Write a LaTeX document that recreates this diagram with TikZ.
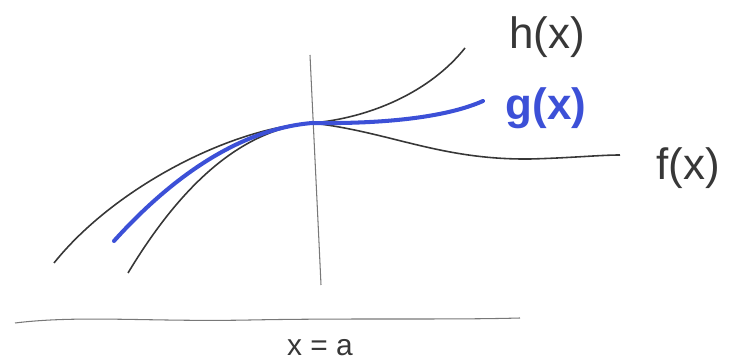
\documentclass[tikz,border=0pt]{standalone}
\usepackage{fontspec}
\setmainfont{Liberation Sans}
\usepackage{tikz}
\usetikzlibrary{positioning}
\definecolor{pen}{RGB}{55,55,55}
\definecolor{pencil}{RGB}{120,120,120}
\definecolor{marker}{RGB}{60,80,215}

\begin{document}
\begin{tikzpicture}[x=0.02cm,y=-0.02cm,
  crv/.style={pen,line width=0.9pt},
  gcrv/.style={marker,line width=2.3pt,line cap=round},
  aux/.style={pencil,line width=0.6pt},
  lbl/.style={font=\fontsize{25}{27}\selectfont,text=pen,inner sep=0pt}]
\useasboundingbox (0,0) rectangle (735,364);
\coordinate (p) at (312,123);
% vertical line and axis
\draw[aux] (310,55) .. controls (314,140) and (318,220) .. (321,285);
\draw[aux] (15,323) .. controls (80,315) and (150,322) .. (250,320) .. controls (350,318) and (450,320) .. (520,318);
% the three curves
\draw[crv] (54,263) .. controls (114,188) and (230,128) .. (p) .. controls (370,118) and (430,92) .. (465,48);
\draw[crv] (128,273) .. controls (175,195) and (235,130) .. (p) .. controls (390,132) and (440,160) .. (530,159) .. controls (570,158) and (600,155) .. (620,155);
\draw[gcrv] (114,241) .. controls (160,190) and (230,130) .. (p) .. controls (380,124) and (445,118) .. (483,101);
% labels
\node[lbl] (hlbl) at (547,37) {h(x)};
\node[lbl,text=marker,font=\bfseries\fontsize{25}{27}\selectfont] (glbl) at (546,108) {g(x)};
\node[lbl] (flbl) at (688,168) {f(x)};
\node[lbl,font=\fontsize{17}{19}\selectfont] (albl) at (320,348) {x = a};
\end{tikzpicture}
\end{document}
